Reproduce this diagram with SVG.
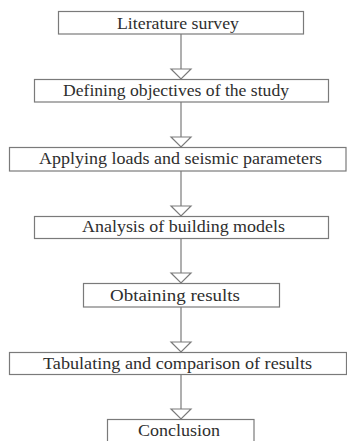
<svg xmlns="http://www.w3.org/2000/svg" width="347" height="441" viewBox="0 0 347 441">
<style>
.box{fill:#fff;stroke:#7a7a7a;stroke-width:1.2}
.lbl{font-family:"Liberation Serif","Times New Roman",serif;font-size:17px;fill:#2e2e2e}
.con{stroke:#7a7a7a;stroke-width:1.2;fill:none;marker-end:url(#tri)}
</style>
<defs>
<marker id="tri" markerUnits="userSpaceOnUse" markerWidth="12" markerHeight="24" viewBox="-1 -11 12 22" refX="10" refY="0" orient="auto">
<path d="M0,-10 L10,0 L0,10 Z" fill="#fff" stroke="#7a7a7a" stroke-width="1.2"/>
</marker>
</defs>
<rect width="347" height="441" fill="#fff"/>
<g id="connectors">
<line class="con" x1="181" y1="34" x2="181" y2="79"/>
<line class="con" x1="181" y1="102" x2="181" y2="147"/>
<line class="con" x1="181" y1="171" x2="181" y2="216"/>
<line class="con" x1="181" y1="238" x2="181" y2="283"/>
<line class="con" x1="181" y1="307" x2="181" y2="352"/>
<line class="con" x1="181" y1="374" x2="181" y2="419"/>
</g>
<g id="n1"><rect class="box" x="58.5" y="11.5" width="245" height="22.5"/><text class="lbl" x="117" y="28.5" textLength="122" lengthAdjust="spacingAndGlyphs">Literature survey</text></g>
<g id="n2"><rect class="box" x="34.5" y="79.5" width="294" height="22.5"/><text class="lbl" x="63" y="96" textLength="226" lengthAdjust="spacingAndGlyphs">Defining objectives of the study</text></g>
<g id="n3"><rect class="box" x="9.5" y="147.5" width="336.5" height="23.5"/><text class="lbl" x="39" y="163.5" textLength="283" lengthAdjust="spacingAndGlyphs">Applying loads and seismic parameters</text></g>
<g id="n4"><rect class="box" x="34.5" y="216.5" width="294" height="22"/><text class="lbl" x="82" y="232" textLength="203" lengthAdjust="spacingAndGlyphs">Analysis of building models</text></g>
<g id="n5"><rect class="box" x="83.5" y="283.5" width="196" height="23.5"/><text class="lbl" x="110" y="300.5" textLength="130" lengthAdjust="spacingAndGlyphs">Obtaining results</text></g>
<g id="n6"><rect class="box" x="9.5" y="352.5" width="337" height="22"/><text class="lbl" x="43" y="368.5" textLength="269" lengthAdjust="spacingAndGlyphs">Tabulating and comparison of results</text></g>
<g id="n7"><rect class="box" x="107.5" y="419.5" width="146.5" height="30"/><text class="lbl" x="138" y="435.5" textLength="82" lengthAdjust="spacingAndGlyphs">Conclusion</text></g>
</svg>
